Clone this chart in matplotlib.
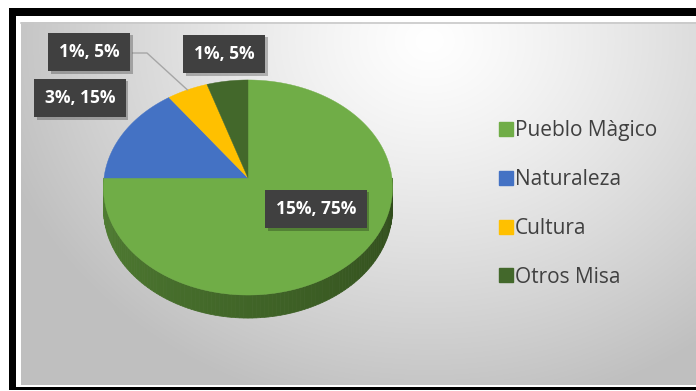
import numpy as np
import matplotlib
matplotlib.use('Agg')
import matplotlib.pyplot as plt
from matplotlib.patches import Polygon, Rectangle
from matplotlib.lines import Line2D
import matplotlib.patheffects as pe

categories = ['Pueblo Màgico', 'Naturaleza', 'Cultura', 'Otros Misa']
values = [15, 3, 1, 1]
colors = ['#70AD47', '#4472C4', '#FFC000', '#43682B']

W, H = 696, 391
fig = plt.figure(figsize=(W / 100, H / 100), dpi=100)
ax = fig.add_axes([0, 0, 1, 1])
ax.axis('off')

# ---- frame and gradient panel ----
ax.add_patch(Rectangle((9, 8), W, 382, fc='black', ec='none', zorder=0))
ax.add_patch(Rectangle((16, 16), W, 371, fc='white', ec='none', zorder=0.1))
gx = np.linspace(21, W, 300)
gy = np.linspace(22, 385, 200)
X, Y = np.meshgrid(gx, gy)
d = np.sqrt(((X - 430) / 450) ** 2 + ((Y - 40) / 380) ** 2)
g = 1 - 0.25 * np.clip(d, 0, 1) ** 1.2
ax.imshow(np.dstack([g, g, g]), extent=(21, W, 385, 22), zorder=0.2,
          interpolation='bilinear', aspect='auto')
ax.plot([21, W], [22.5, 22.5], color='#c8c8c8', lw=1.2, zorder=0.3)

# ---- 3D pie ----
cx, cy, rx, ry, k, depth = 248, 178, 144, 106.7, 0.0884, 21


def proj(th_deg, r=1.0, down=0.0):
    t = np.radians(th_deg)
    u, v = r * np.cos(t), r * np.sin(t)
    s = 1.0 / (1 + k * v)
    return cx + rx * u * s, cy - ry * v * s + down * s


total = sum(values)
angles = [90]
for v in values:
    angles.append(angles[-1] - 360 * v / total)

# side wall (front half, visible part)
side_dark = np.array([0x2f, 0x4a, 0x1b]) / 255
side_light = np.array([0x52, 0x80, 0x34]) / 255
n = 120
ths = np.linspace(180, 360, n + 1)
for i in range(n):
    a0, a1 = ths[i], ths[i + 1]
    x0, y0 = proj(a0)
    x1, y1 = proj(a1)
    x0b, y0b = proj(a0, down=depth)
    x1b, y1b = proj(a1, down=depth)
    f = (0.5 * (a0 + a1) - 180) / 180
    c = side_light * (1 - f) + side_dark * f
    ax.add_patch(Polygon([[x0, y0], [x1, y1], [x1b, y1b], [x0b, y0b]],
                         closed=True, fc=c, ec=c, lw=0.5, zorder=1))

# top faces
for i, col in enumerate(colors):
    a_start, a_end = angles[i], angles[i + 1]
    arc = np.linspace(a_start, a_end, 200)
    pts = [[cx, cy]] + [list(proj(a)) for a in arc]
    ax.add_patch(Polygon(pts, closed=True, fc=col, ec=col, lw=0.3, zorder=2))

# ---- data labels ----
label_pos = [(316, 209), (80, 98), (89, 52), (224, 54)]
for i, v in enumerate(values):
    pct = round(100 * v / total)
    lx, ly = label_pos[i]
    t = ax.text(lx, ly, f"{v}%, {pct}%", ha='center', va='center',
                fontsize=12.5, family='Open Sans', weight='bold', color='white',
                bbox=dict(boxstyle='square,pad=0.6', fc='#404040', ec='none'),
                zorder=5)
    t.get_bbox_patch().set_path_effects(
        [pe.SimplePatchShadow(offset=(2, -2), shadow_rgbFace='black', alpha=0.25), pe.Normal()])

# leader line for Cultura
mid = 0.5 * (angles[2] + angles[3])
ex, ey = proj(mid)
ax.plot([133, 147, ex], [53, 53, ey], color='#a6a6a6', lw=1.0, zorder=3)

ax.set_xlim(0, W)
ax.set_ylim(H, 0)

# ---- legend ----
handles = [Line2D([], [], marker='s', ls='none', markersize=10, color=c) for c in colors]
leg = ax.legend(handles, categories, loc='center left',
                bbox_to_anchor=(487 / W, 1 - 204 / H), frameon=False,
                prop=dict(family='Open Sans', size=15), labelcolor='#404040',
                handletextpad=0.05, handlelength=0.8, labelspacing=1.33,
                borderpad=0)

fig.savefig('out.png', dpi=100)
